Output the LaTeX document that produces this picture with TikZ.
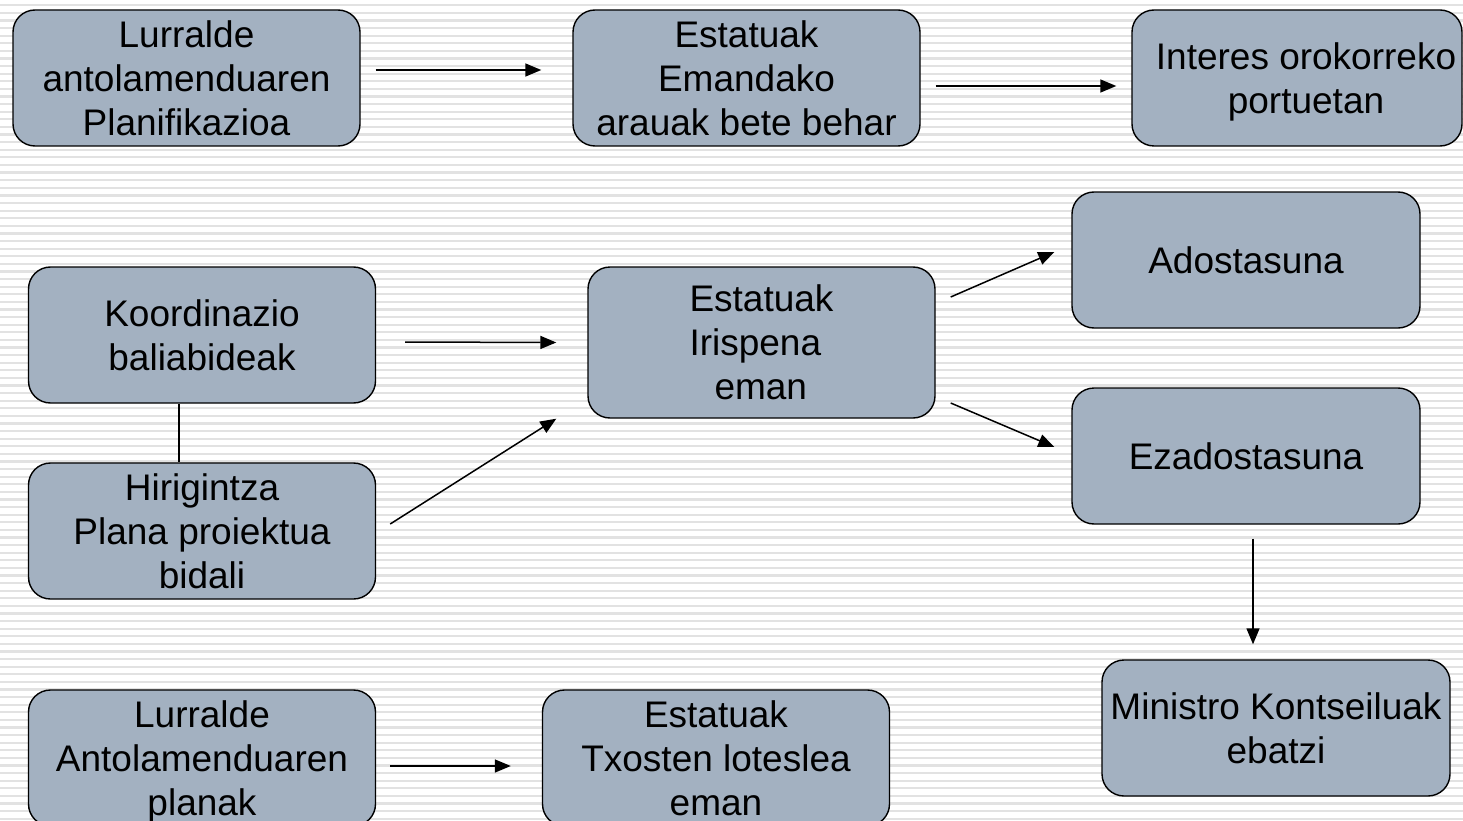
\documentclass[tikz,border=0pt]{standalone}
\usepackage{fontspec}
\setmainfont{Liberation Sans}
\usetikzlibrary{arrows.meta,calc}
\definecolor{boxfill}{RGB}{163,177,193}
\definecolor{stripe}{RGB}{226,226,226}
\newcommand{\nodesc}[1]{\raisebox{0pt}[\height][0pt]{#1}}
\tikzset{
  box/.style={draw=black, line width=1.4pt, fill=boxfill, rounded corners=22pt,
    minimum width=347pt, minimum height=136pt, align=center, inner sep=0pt,
    font=\fontsize{37}{44}\selectfont, text=black},
  conn/.style={draw=black, line width=1.5pt},
  arr/.style={conn, -{Triangle[length=16pt,width=13pt]}}
}
\begin{document}
\begin{tikzpicture}[x=1pt,y=-1pt]
\useasboundingbox (0,0) rectangle (1463,821);
\clip (0,0) rectangle (1463,821);
\fill[white] (0,0) rectangle (1463,821);
\foreach \i in {0,...,108} {
  \draw[stripe, line width=2.2pt] (0,5.4+7.6*\i) -- (1463,5.4+7.6*\i);
}
\node[box] (n1) at (186.5,78) {Lurralde\\antolamenduaren\\Planifikazioa};
\node[box] (n2) at (746.5,78) {Estatuak\\Emandako\\arauak bete behar};
\node[box, minimum width=330pt] (n3) at (1297,78) {\hspace*{18pt}Interes orokorreko\\\hspace*{18pt}\nodesc{portuetan}};
\node[box, minimum width=348pt] (n4) at (1246,260) {Adostasuna};
\node[box, minimum height=151pt, align=left] (n5) at (761.5,342.5) {Estatuak\\Irispena\\\hspace*{25pt}eman};
\node[box, minimum width=348pt] (n6) at (1246,456) {Ezadostasuna};
\node[box] (n7) at (202,335) {Koordinazio\\baliabideak};
\node[box] (n8) at (202,531) {Hirigintza\\Plana proiektua\\bidali};
\node[box, minimum width=348pt] (n9) at (1276,728) {Ministro Kontseiluak\\ebatzi};
\node[box] (n10) at (202,758) {Lurralde\\Antolamenduaren\\\nodesc{planak}};
\node[box] (n11) at (716,758) {Estatuak\\Txosten loteslea\\eman};

\draw[arr] ($(n1.east)+(15,-8)$) -- ($(n2.west)+(-31,-8)$);
\draw[arr] ($(n2.east)+(15,8)$) -- ($(n3.west)+(-15,8)$);
\draw[arr] ($(n7.east)+(29,7)$) -- ($(n5.west)+(-31,0)$);
\draw[arr] ($(n8.east)+(14,-7)$) -- ($(n5.south west)+(-31,0)$);
\draw[arr] ($(n5.east)+(15,-45.5)$) -- ($(n4.west)+(-17,-8)$);
\draw[arr] ($(n5.east)+(15,60.5)$) -- ($(n6.west)+(-17,-9)$);
\draw[arr] ($(n6.south)+(7,14)$) -- ($(n9.north)+(-23,-15)$);
\draw[arr] ($(n10.east)+(14,8)$) -- ($(n11.west)+(-31,8)$);
\draw[conn] ($(n7.south)+(-23,0)$) -- ($(n8.north)+(-23,0)$);
\end{tikzpicture}
\end{document}
